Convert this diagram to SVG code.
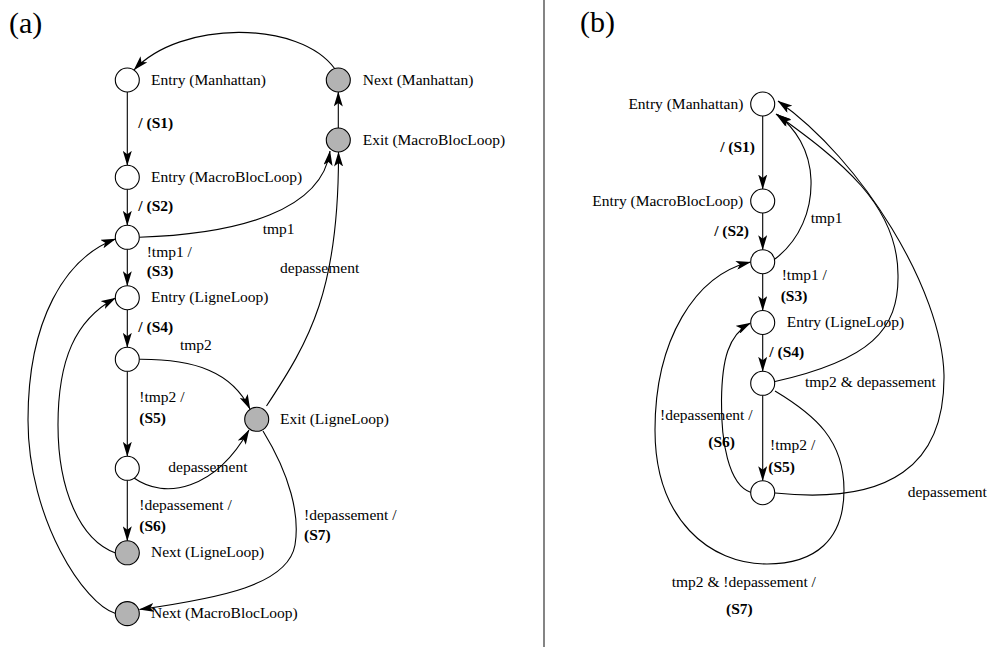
<svg xmlns="http://www.w3.org/2000/svg" width="996" height="647" viewBox="0 0 996 647">
<style>
text{font-family:"Liberation Serif","Times New Roman",serif;font-size:15.5px;fill:#000}
.b{font-weight:bold}
.title{font-size:30px}
.e{text-anchor:end}
circle{stroke:#000;stroke-width:1.1;fill:#fff}
circle.g{fill:#b3b3b3}
.c path{fill:none;stroke:#000;stroke-width:1.1;marker-end:url(#ah)}
</style>
<defs>
<marker id="ah" markerUnits="userSpaceOnUse" markerWidth="15" markerHeight="9" viewBox="0 0 15 9" refX="14.5" refY="4.5" orient="auto">
<path d="M0,0 L15,4.5 L0,9 L3.5,4.5 z" fill="#000"/>
</marker>
</defs>
<rect width="996" height="647" fill="#fff"/>
<line x1="544" y1="0" x2="544" y2="647" stroke="#666" stroke-width="1.6"/>
<text class="title" x="9" y="33">(a)</text>
<text class="title" x="580" y="32">(b)</text>

<!-- Panel (a) connectors -->
<g id="connectors-a" class="c">
<path d="M127.3,92 V165.3"/>
<path d="M127.3,189.3 V225.3"/>
<path d="M127.3,249.3 V285.7"/>
<path d="M127.3,309.7 V347.3"/>
<path d="M127.3,371.3 V456.3"/>
<path d="M127.3,480.3 V540.8"/>
<path d="M338.3,128 V92"/>
<path d="M335,69 C 300,20 180,20 134,70"/>
<path d="M139.3,237.3 C 240,234 322,210 330,151"/>
<path d="M266.5,406 C 310,340 339,290 338.5,152"/>
<path d="M139.3,359.3 C 195,359 232,372 250,409"/>
<path d="M134,478 C 165,500 215,490 249,430"/>
<path d="M263,431 C 290,475 300,515 295,545 C 288,585 220,598 139.5,609.5"/>
<path d="M115.5,553 C 80,540 58,490 58,425 C 58,360 75,320 115.5,298"/>
<path d="M115.5,613.5 C 85,605 28,520 28,420 C 28,320 65,258 115.5,239"/>
</g>

<!-- Panel (b) connectors -->
<g id="connectors-b" class="c">
<path d="M762.7,116 V189"/>
<path d="M762.7,213 V249.7"/>
<path d="M762.7,273.7 V310.5"/>
<path d="M762.7,334.5 V371.3"/>
<path d="M762.7,395.3 V480.7"/>
<path d="M775,259 C 800,240 812,210 811,180 C 810,150 795,128 777.5,114.5"/>
<path d="M775,381.5 C 870,360 899,330 898,275 C 898,205 840,160 776,114"/>
<path d="M775,493 C 890,505 945,465 944,375 C 942,290 862,160 778,101"/>
<path d="M775,391 C 815,415 844,440 844,490 C 844,540 815,564 767,564 C 710,564 655,520 655,430 C 655,340 695,275 750.5,262"/>
<path d="M751,492.5 C 728,485 721,440 721.5,400 C 722,360 728,335 750.5,323"/>
</g>

<!-- Edge labels (a) -->
<g id="edge-labels-a">
<text class="b" x="138.3" y="128">/ (S1)</text>
<text class="b" x="138.3" y="210.5">/ (S2)</text>
<text x="262.7" y="234">tmp1</text>
<text x="146.7" y="256.6">!tmp1 /</text>
<text class="b" x="146.7" y="275.5">(S3)</text>
<text x="280" y="272.6">depassement</text>
<text class="b" x="138.3" y="332">/ (S4)</text>
<text x="180" y="350">tmp2</text>
<text x="139.3" y="401.6">!tmp2 /</text>
<text class="b" x="139.3" y="423">(S5)</text>
<text x="168.3" y="471.6">depassement</text>
<text x="139.3" y="510">!depassement /</text>
<text class="b" x="139.3" y="530.5">(S6)</text>
<text x="304" y="520">!depassement /</text>
<text class="b" x="304" y="540">(S7)</text>
</g>

<!-- Edge labels (b) -->
<g id="edge-labels-b">
<text class="b e" x="755" y="152">/ (S1)</text>
<text class="b e" x="749" y="235.5">/ (S2)</text>
<text x="810.7" y="223.3">tmp1</text>
<text x="781.7" y="280">!tmp1 /</text>
<text class="b" x="780.7" y="300.5">(S3)</text>
<text class="b" x="769.3" y="356.5">/ (S4)</text>
<text x="805" y="387">tmp2 &amp; depassement</text>
<text x="660" y="420">!depassement /</text>
<text class="b" x="708.3" y="447">(S6)</text>
<text x="770" y="450">!tmp2 /</text>
<text class="b" x="768.3" y="472">(S5)</text>
<text x="907.7" y="496.7">depassement</text>
<text x="671.7" y="587">tmp2 &amp; !depassement /</text>
<text class="b" x="726" y="614">(S7)</text>
</g>

<!-- Panel (a) nodes -->
<g id="a-entry-manhattan"><circle cx="127.3" cy="80" r="12"/><text x="151" y="84.5">Entry (Manhattan)</text></g>
<g id="a-next-manhattan"><circle class="g" cx="338.3" cy="80" r="12"/><text x="362.7" y="84.5">Next (Manhattan)</text></g>
<g id="a-exit-macrobloc"><circle class="g" cx="338.3" cy="140" r="12"/><text x="362.7" y="144.5">Exit (MacroBlocLoop)</text></g>
<g id="a-entry-macrobloc"><circle cx="127.3" cy="177.3" r="12"/><text x="151" y="181.8">Entry (MacroBlocLoop)</text></g>
<g id="a-s3"><circle cx="127.3" cy="237.3" r="12"/></g>
<g id="a-entry-ligne"><circle cx="127.3" cy="297.7" r="12"/><text x="151" y="302.2">Entry (LigneLoop)</text></g>
<g id="a-s5"><circle cx="127.3" cy="359.3" r="12"/></g>
<g id="a-exit-ligne"><circle class="g" cx="256.7" cy="419.3" r="12"/><text x="280" y="423.8">Exit (LigneLoop)</text></g>
<g id="a-s6"><circle cx="127.3" cy="468.3" r="12"/></g>
<g id="a-next-ligne"><circle class="g" cx="127.3" cy="552.8" r="12"/><text x="151" y="557.3">Next (LigneLoop)</text></g>
<g id="a-next-macrobloc"><circle class="g" cx="127.3" cy="613.6" r="12"/><text x="151" y="618.1">Next (MacroBlocLoop)</text></g>

<!-- Panel (b) nodes -->
<g id="b-entry-manhattan"><circle cx="762.7" cy="104" r="12"/><text class="e" x="743.3" y="108.5">Entry (Manhattan)</text></g>
<g id="b-entry-macrobloc"><circle cx="762.7" cy="201" r="12"/><text class="e" x="743.3" y="205.5">Entry (MacroBlocLoop)</text></g>
<g id="b-s3"><circle cx="762.7" cy="261.7" r="12"/></g>
<g id="b-entry-ligne"><circle cx="762.7" cy="322.5" r="12"/><text x="786.7" y="327">Entry (LigneLoop)</text></g>
<g id="b-s5"><circle cx="762.7" cy="383.3" r="12"/></g>
<g id="b-s6"><circle cx="762.7" cy="492.7" r="12"/></g>
</svg>
